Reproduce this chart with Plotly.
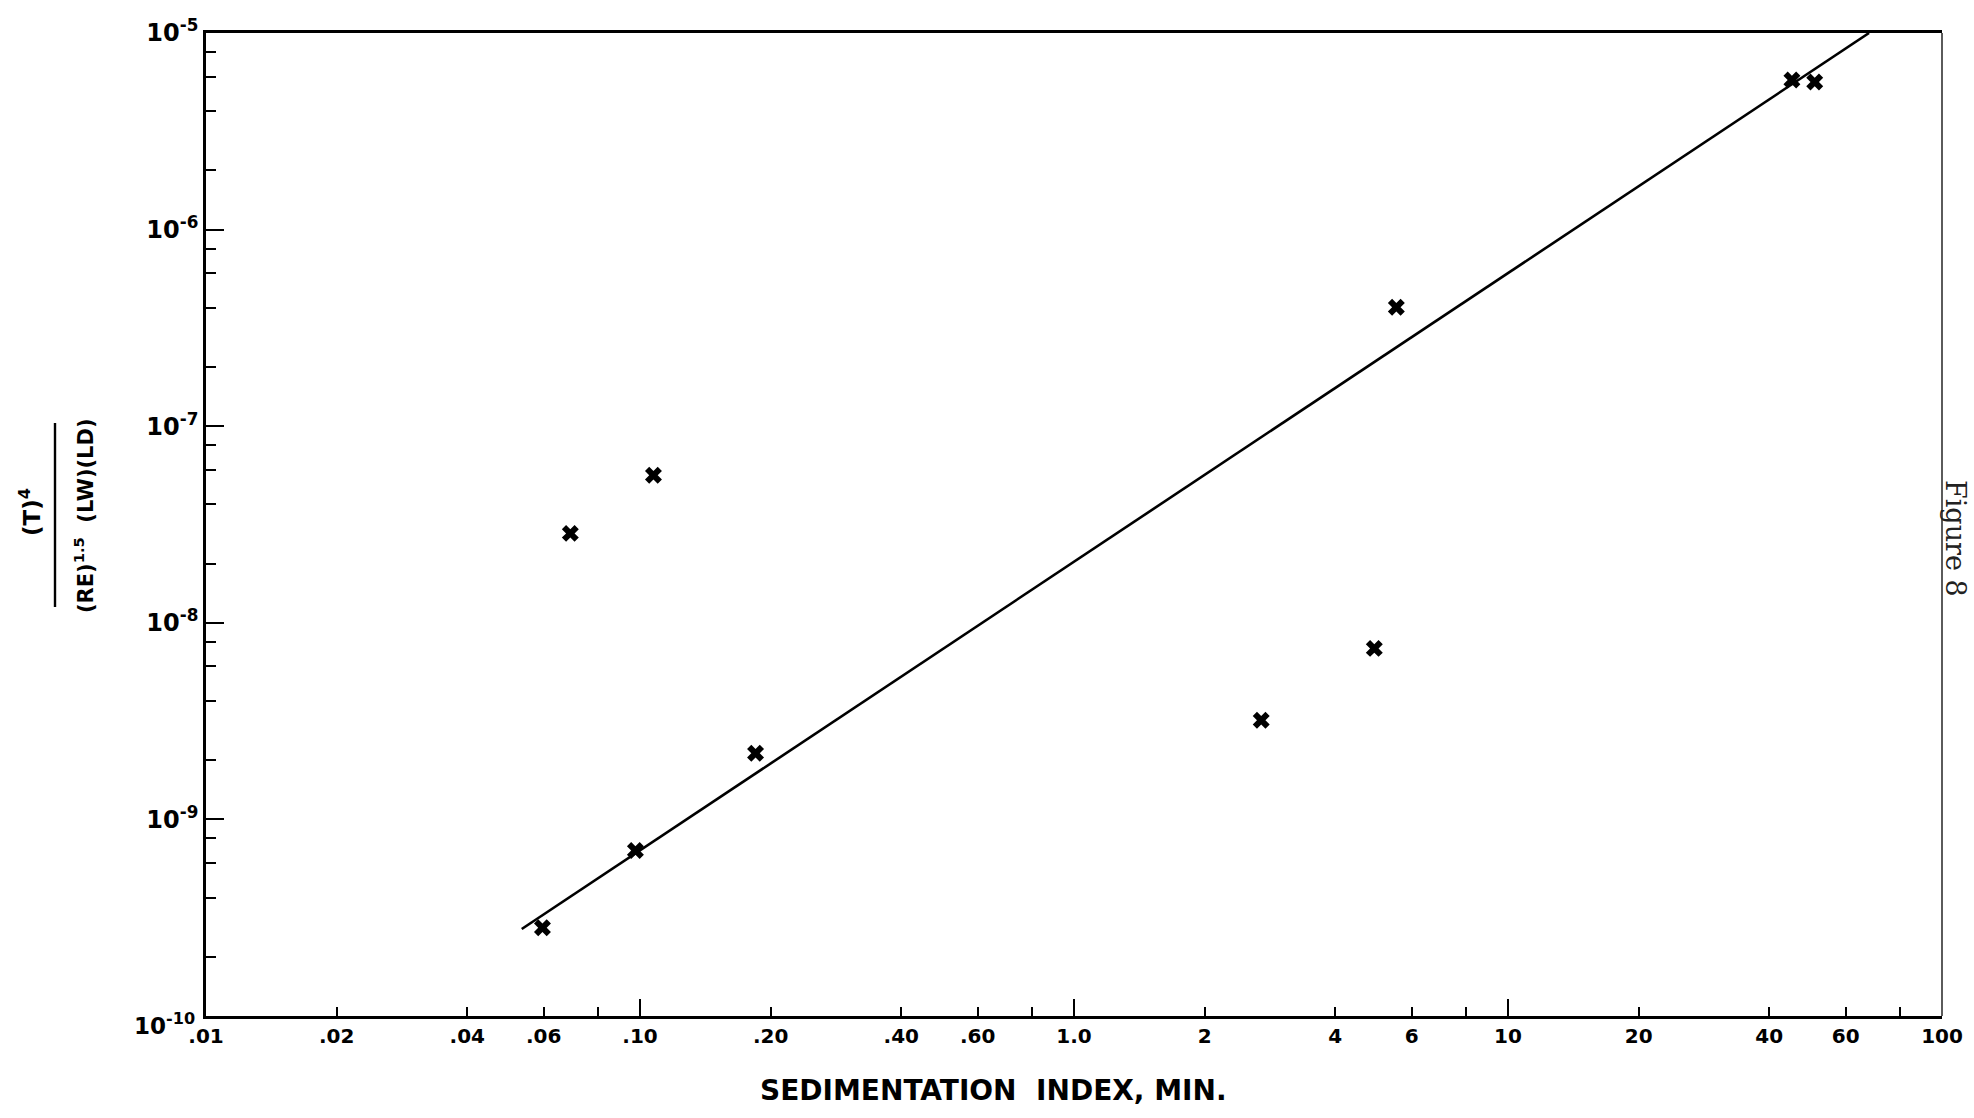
import plotly.graph_objects as go

# Measured points: sedimentation index (min) vs (T)^4 / ((RE)^1.5 (LW)(LD))
sed_index = [0.0596, 0.0691, 0.0976, 0.1074, 0.1846, 2.70, 4.92, 5.53, 45.1, 50.9]
ratio = [2.81e-10, 2.85e-8, 6.95e-10, 5.63e-8, 2.17e-9, 3.19e-9, 7.41e-9, 4.03e-7, 5.77e-6, 5.64e-6]

# Fitted straight line (log-log), end points
fit_x = [0.0534, 67.9]
fit_y = [2.77e-10, 1.0e-5]

# Axis ticks
x_tickvals = [0.01, 0.02, 0.04, 0.06, 0.1, 0.2, 0.4, 0.6, 1, 2, 4, 6, 10, 20, 40, 60, 100]
x_ticktext = [".01", ".02", ".04", ".06", ".10", ".20", ".40", ".60", "1.0",
              "2", "4", "6", "10", "20", "40", "60", "100"]
x_minor = [0.08, 0.8, 8, 80]
x_decades = [0.1, 1, 10]

y_tickvals = [1e-5, 1e-6, 1e-7, 1e-8, 1e-9]
y_ticktext = ["10<sup>-5</sup>", "10<sup>-6</sup>", "10<sup>-7</sup>",
              "10<sup>-8</sup>", "10<sup>-9</sup>"]
y_minor = [m * 10.0 ** e for e in range(-10, -5) for m in (2, 4, 6, 8)]

W, H = 1974, 1118
L, R, T, B = 206, 1942, 33, 1016


def px(x):
    return (x - L) / (R - L)


def py(y):
    return (B - y) / (B - T)


FONT = "DejaVu Sans"
BOLD = dict(family=FONT, color="black", weight="bold")

fig = go.Figure()
fig.add_trace(go.Scatter(x=fit_x, y=fit_y, mode="lines",
                         line=dict(color="black", width=2.6),
                         showlegend=False, hoverinfo="skip"))
fig.add_trace(go.Scatter(x=sed_index, y=ratio, mode="markers",
                         marker=dict(symbol="x", size=15, color="black",
                                     line=dict(width=0)),
                         showlegend=False))

fig.update_xaxes(type="log", range=[-2, 2],
                 showgrid=False, zeroline=False,
                 showline=True, linecolor="black", linewidth=2.6, mirror=True,
                 ticks="inside", ticklen=9, tickwidth=2, tickcolor="black",
                 tickvals=x_tickvals, ticktext=x_ticktext,
                 tickfont=dict(BOLD, size=20),
                 minor=dict(tickvals=x_minor, ticks="inside", ticklen=9,
                            tickwidth=2, tickcolor="black", showgrid=False))

fig.update_yaxes(type="log", range=[-10, -5],
                 showgrid=False, zeroline=False,
                 showline=True, linecolor="black", linewidth=2.6, mirror=False,
                 ticks="inside", ticklen=18, tickwidth=2, tickcolor="black",
                 tickvals=y_tickvals, ticktext=y_ticktext,
                 tickfont=dict(BOLD, size=24),
                 minor=dict(tickvals=y_minor, ticks="inside", ticklen=10,
                            tickwidth=2, tickcolor="black", showgrid=False))

shapes = []
# Longer ticks at the decades of the x axis
for d in x_decades:
    shapes.append(dict(type="line", xref="x", yref="paper",
                       x0=d, x1=d, y0=0, y1=17 / (B - T),
                       line=dict(color="black", width=2)))
# Right-hand frame edge (lighter)
shapes.append(dict(type="line", xref="paper", yref="paper",
                   x0=1, x1=1, y0=0, y1=1,
                   line=dict(color="#333", width=1.6)))
# Fraction bar of the y-axis title
shapes.append(dict(type="line", xref="paper", yref="paper",
                   x0=px(55), x1=px(55), y0=py(423), y1=py(607),
                   line=dict(color="black", width=2.4)))


def note(text, x, y, size, angle=0, font=None):
    f = dict(font or BOLD)
    f["size"] = size
    return dict(text=text, x=px(x), y=py(y), xref="paper", yref="paper",
                xanchor="center", yanchor="middle", textangle=angle,
                showarrow=False, font=f)


annotations = [
    # bottom y tick label sits a little lower, in the corner
    note("10<sup>-10</sup>", 164, 1024, 23),
    note("(T)<sup>4</sup>", 30, 512, 23, -90),
    note("(RE)<sup>1.5</sup>  (LW)(LD)", 84, 516, 21, -90),
    note("SEDIMENTATION  INDEX, MIN.", 993, 1090, 28),
    note("Figure 8", 1956, 538, 27, 90,
         dict(family="DejaVu Serif", color="#222")),
]

fig.update_layout(
    width=W, height=H,
    margin=dict(l=L, r=W - R, t=T, b=H - B),
    paper_bgcolor="white", plot_bgcolor="white",
    shapes=shapes, annotations=annotations,
    showlegend=False,
)

fig.write_html("out.html")
